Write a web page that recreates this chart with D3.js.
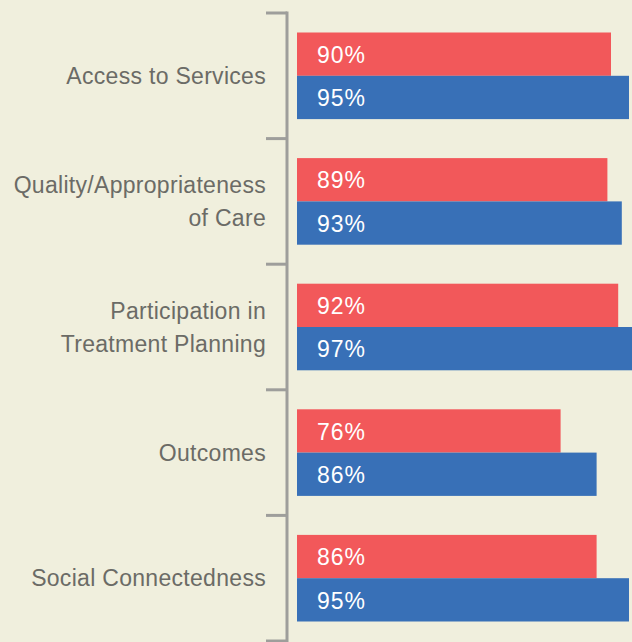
<!DOCTYPE html>
<html>
<head>
<meta charset="utf-8">
<script src="https://cdn.jsdelivr.net/npm/d3@7"></script>
<style>
  html, body { margin: 0; padding: 0; background: #f0efdd; }
  .container { width: 632px; height: 642px; overflow: hidden; }
  text { font-family: "Liberation Sans", Arial, Helvetica, sans-serif; }
</style>
</head>
<body>
<div class="container"></div>
<script>
var categories = [
  ["Access to Services"],
  ["Quality/Appropriateness", "of Care"],
  ["Participation in", "Treatment Planning"],
  ["Outcomes"],
  ["Social Connectedness"]
];
var seriesNames = ["series1", "series2"];
var series1 = [90, 89, 92, 76, 86];
var series2 = [95, 93, 97, 86, 95];
var colors = ["#f2585a", "#3870b7"];

var width = 632, height = 642;
var axisX = 287;

var svg = d3.select(".container").append("svg")
  .attr("width", width)
  .attr("height", height);

var keys = categories.map(function(d, i) { return i; });

var y = d3.scaleBand()
  .domain(keys)
  .range([13, 641]);

var y1 = d3.scaleBand()
  .domain(seriesNames)
  .range([19.5, y.bandwidth() - 19.5]);

var x = d3.scaleLinear()
  .domain([0, 100])
  .range([axisX, axisX + 360]);

var data = keys.map(function(i) {
  return [
    { key: seriesNames[0], value: series1[i] },
    { key: seriesNames[1], value: series2[i] }
  ];
});

var groups = svg.selectAll("g.group")
  .data(data)
  .enter().append("g")
  .attr("class", "group")
  .attr("transform", function(d, i) { return "translate(0," + y(i) + ")"; });

groups.selectAll("rect")
  .data(function(d) { return d; })
  .enter().append("rect")
  .attr("x", axisX + 10)
  .attr("y", function(d) { return y1(d.key); })
  .attr("width", function(d) { return x(d.value) - axisX - 10; })
  .attr("height", y1.bandwidth())
  .attr("fill", function(d, i) { return colors[i]; });

groups.selectAll("text.value")
  .data(function(d) { return d; })
  .enter().append("text")
  .attr("class", "value")
  .attr("x", axisX + 30)
  .attr("y", function(d) { return y1(d.key) + y1.bandwidth() / 2; })
  .attr("dy", "0.38em")
  .attr("fill", "#ffffff")
  .style("font-size", "23px")
  .style("letter-spacing", "1px")
  .text(function(d) { return d.value + "%"; });

// category labels
var labels = svg.selectAll("text.cat")
  .data(categories)
  .enter().append("text")
  .attr("class", "cat")
  .attr("text-anchor", "end")
  .attr("fill", "#6b6b66")
  .style("font-size", "23px")
  .style("letter-spacing", "0.3px")
  .attr("transform", function(d, i) {
    return "translate(266," + (y(i) + y.bandwidth() / 2) + ")";
  });

labels.selectAll("tspan")
  .data(function(d) { return d; })
  .enter().append("tspan")
  .attr("x", 0)
  .attr("y", function(d, j, nodes) {
    var n = nodes.length;
    return (j - (n - 1) / 2) * 33;
  })
  .attr("dy", "0.36em")
  .text(function(d) { return d; });

// axis line and ticks
var tickPos = keys.map(function(i) { return y(i); }).concat([y.range()[1]]);

svg.append("line")
  .attr("x1", axisX).attr("x2", axisX)
  .attr("y1", tickPos[0] - 1.5).attr("y2", tickPos[tickPos.length - 1] + 1.5)
  .attr("stroke", "#9e9e9b")
  .attr("stroke-width", 3);

svg.selectAll("line.tick")
  .data(tickPos)
  .enter().append("line")
  .attr("class", "tick")
  .attr("x1", 266).attr("x2", axisX)
  .attr("y1", function(d) { return d; })
  .attr("y2", function(d) { return d; })
  .attr("stroke", "#9e9e9b")
  .attr("stroke-width", 3);
</script>
</body>
</html>
